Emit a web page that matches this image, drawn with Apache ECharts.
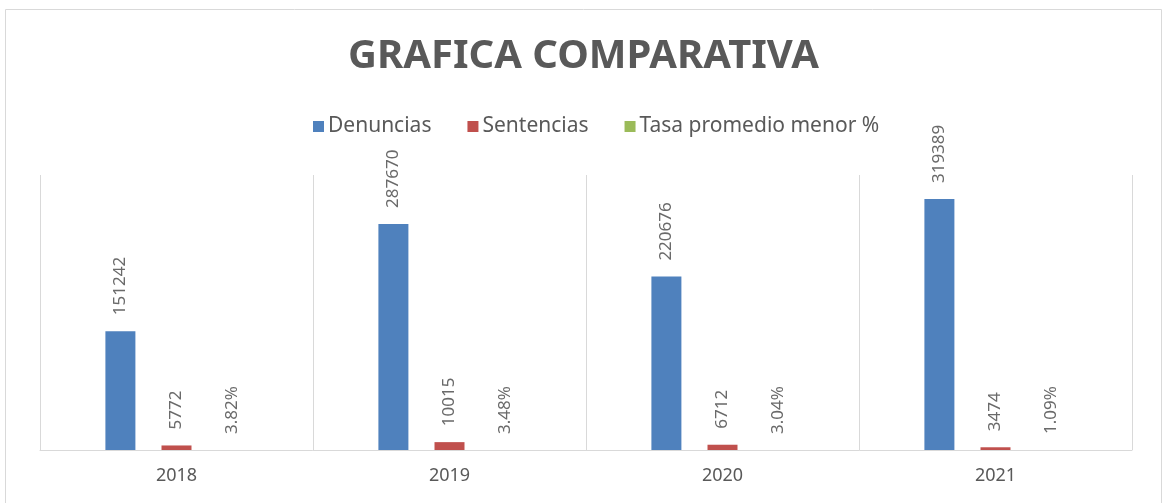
<!DOCTYPE html>
<html>
<head>
<meta charset="utf-8">
<script src="https://cdn.jsdelivr.net/npm/echarts@6/dist/echarts.min.js"></script>
<style>
html, body { margin: 0; padding: 0; background: #fff; }
#grafica { width: 1167px; height: 503px; }
</style>
</head>
<body>
<div id="grafica"></div>
<script>
// años
const years = ['2018', '2019', '2020', '2021']
const denuncias = [151242, 287670, 220676, 319389]
const sentencias = [5772, 10015, 6712, 3474]
// tasa en %
const tasa = [3.82, 3.48, 3.04, 1.09]

const gris = '#595959'
const etiqueta = {
  show: true,
  position: 'top',
  rotate: 90,
  align: 'left',
  verticalAlign: 'middle',
  distance: 16,
  color: '#6a6a6a',
  fontSize: 17,
  fontFamily: 'Noto Sans'
}

const myChart = echarts.init(document.getElementById('grafica'))
myChart.setOption({
  animation: false,
  textStyle: { fontFamily: 'Noto Sans' },
  graphic: [{
    type: 'rect',
    shape: { x: 5.5, y: 9.5, width: 1156, height: 520 },
    style: { fill: 'none', stroke: '#d9d9d9', lineWidth: 1 }
  }],
  title: {
    text: 'GRAFICA COMPARATIVA',
    left: 'center',
    top: 32,
    textStyle: { fontSize: 40, fontWeight: 'bold', color: gris, fontFamily: 'Noto Sans' }
  },
  legend: {
    top: 111,
    left: 308,
    itemWidth: 11,
    itemHeight: 11,
    itemGap: 36,
    icon: 'rect',
    textStyle: { fontSize: 21, color: gris, padding: [0, 0, 0, -1] },
    data: ['Denuncias', 'Sentencias', 'Tasa promedio menor %']
  },
  grid: { left: 40, right: 35, top: 175, bottom: 53 },
  xAxis: {
    type: 'category',
    data: years,
    axisLine: { lineStyle: { color: '#d9d9d9', width: 1 } },
    axisTick: { show: false },
    splitLine: { show: true, lineStyle: { color: '#d9d9d9', width: 1 } },
    axisLabel: { color: gris, fontSize: 18, margin: 17 }
  },
  yAxis: {
    type: 'value',
    min: 0,
    max: 350000,
    show: false,
    splitLine: { show: false }
  },
  series: [
    {
      name: 'Denuncias',
      type: 'bar',
      data: denuncias,
      barWidth: 30,
      barGap: '87%',
      itemStyle: { color: '#4f81bd' },
      label: etiqueta
    },
    {
      name: 'Sentencias',
      type: 'bar',
      data: sentencias,
      barWidth: 30,
      barGap: '87%',
      itemStyle: { color: '#c0504d' },
      label: etiqueta
    },
    {
      name: 'Tasa promedio menor %',
      type: 'bar',
      data: tasa,
      barWidth: 30,
      barGap: '87%',
      itemStyle: { color: '#9bbb59' },
      label: Object.assign({}, etiqueta, { formatter: p => p.value.toFixed(2) + '%' })
    }
  ]
})
</script>
</body>
</html>
